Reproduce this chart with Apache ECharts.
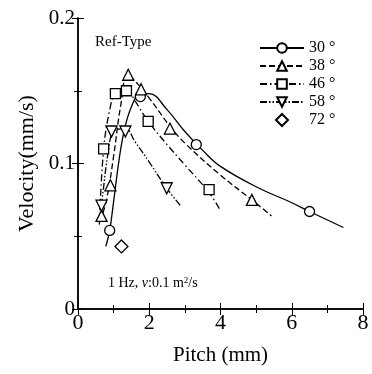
<!DOCTYPE html>
<html>
<head>
<meta charset="utf-8">
<script src="https://cdn.jsdelivr.net/npm/echarts@6/dist/echarts.min.js"></script>
<style>
  html, body { margin: 0; padding: 0; background: #fff; }
  #chart { width: 372px; height: 374px; }
</style>
</head>
<body>
<div id="chart"></div>
<script>
  // measured points
  var p30x = [0.89, 1.75, 3.32, 6.5]
  var p30y = [0.054, 0.146, 0.113, 0.067]
  var p38x = [0.66, 0.91, 1.41, 1.77, 2.58, 4.88]
  var p38y = [0.064, 0.085, 0.161, 0.151, 0.124, 0.075]
  var p46x = [0.72, 1.05, 1.36, 1.97, 3.68]
  var p46y = [0.110, 0.148, 0.150, 0.129, 0.082]
  var p58x = [0.66, 0.94, 1.33, 2.49]
  var p58y = [0.071, 0.122, 0.122, 0.083]
  var p72x = [1.22]
  var p72y = [0.043]

  // fitted curves
  var c30x = [0.78, 0.89, 1.0, 1.15, 1.3, 1.5, 1.75, 2.0, 2.5, 3.0, 3.5, 4.0, 5.0, 6.0, 6.5, 7.45]
  var c30y = [0.043, 0.054, 0.074, 0.102, 0.123, 0.139, 0.148, 0.148, 0.137, 0.122, 0.109, 0.098, 0.084, 0.073, 0.067, 0.056]
  var c38x = [0.62, 0.8, 1.0, 1.2, 1.4, 1.7, 2.0, 2.6, 3.0, 4.0, 4.88, 5.43]
  var c38y = [0.060, 0.075, 0.105, 0.140, 0.161, 0.154, 0.145, 0.125, 0.114, 0.092, 0.075, 0.064]
  var c46x = [0.6, 0.72, 0.9, 1.05, 1.36, 1.6, 1.97, 2.5, 3.0, 3.68, 3.99]
  var c46y = [0.058, 0.110, 0.138, 0.148, 0.151, 0.143, 0.129, 0.113, 0.099, 0.080, 0.068]
  var c58x = [0.6, 0.7, 0.85, 1.0, 1.33, 1.6, 2.0, 2.49, 2.88]
  var c58y = [0.060, 0.080, 0.108, 0.122, 0.124, 0.115, 0.101, 0.083, 0.071]

  var names = ['30 °', '38 °', '46 °', '58 °', '72 °']
  var xTicks = [0, 2, 4, 6, 8]
  var yTicks = [0, 0.1, 0.2]

  var FONT = '"Liberation Serif", "DejaVu Serif", serif'
  var downTri = 'path://M0,0 L10,0 L5,9 Z'
  var diamond = 'path://M5,0 L10,5 L5,10 L0,5 Z'

  function pairs(xs, ys) {
    return xs.map(function (x, i) { return [x, ys[i]] })
  }

  function curve(name, xs, ys, dash, symbol) {
    return {
      name: name,
      type: 'line',
      data: pairs(xs, ys),
      smooth: 0.4,
      showSymbol: false,
      symbol: symbol,
      symbolSize: 10,
      silent: true,
      itemStyle: { color: '#fff', borderColor: '#000', borderWidth: 1.2 },
      lineStyle: { color: '#000', width: 1.3, type: dash },
      z: 2
    }
  }

  function marks(name, xs, ys, symbol, size) {
    return {
      name: name,
      type: 'scatter',
      data: pairs(xs, ys),
      symbol: symbol,
      symbolSize: size,
      itemStyle: { color: '#fff', borderColor: '#000', borderWidth: 1.3, opacity: 1 },
      z: 3
    }
  }

  var dom = echarts.init(document.getElementById('chart'))

  var axisLine = { show: true, lineStyle: { color: '#000', width: 1.5 } }

  var option = {
    backgroundColor: '#fff',
    animation: false,
    textStyle: { fontFamily: FONT, color: '#000' },
    grid: { left: 78, right: 9, top: 18, bottom: 65 },
    legend: {
      orient: 'vertical',
      left: 254,
      top: 35,
      itemWidth: 44,
      itemHeight: 12,
      itemGap: 2,
      data: names,
      textStyle: { fontFamily: FONT, fontSize: 16, color: '#000' }
    },
    xAxis: [{
      type: 'value',
      min: 0, max: 8, interval: 2,
      name: 'Pitch (mm)',
      nameLocation: 'middle',
      nameGap: 36,
      nameTextStyle: { fontFamily: FONT, fontSize: 21, color: '#000' },
      axisLine: axisLine,
      axisTick: { inside: true, length: 6, lineStyle: { color: '#000' } },
      minorTick: { show: true, splitNumber: 2, length: 4, lineStyle: { color: '#000' } },
      axisLabel: {
        fontFamily: FONT, fontSize: 22, color: '#000', margin: 3,
        formatter: function (v) { return xTicks.indexOf(v) > -1 ? String(v) : '' }
      },
      splitLine: { show: false }
    }, {
      type: 'value', position: 'top',
      min: 0, max: 8, interval: 2,
      axisLine: axisLine,
      axisTick: { inside: true, length: 6, lineStyle: { color: '#000' } },
      minorTick: { show: true, splitNumber: 2, length: 4, lineStyle: { color: '#000' } },
      axisLabel: { show: false },
      splitLine: { show: false }
    }],
    yAxis: [{
      type: 'value',
      min: 0, max: 0.2, interval: 0.1,
      name: 'Velocity(mm/s)',
      nameLocation: 'middle',
      nameGap: 40,
      nameTextStyle: { fontFamily: FONT, fontSize: 22, color: '#000' },
      axisLine: axisLine,
      axisTick: { inside: true, length: 6, lineStyle: { color: '#000' } },
      minorTick: { show: true, splitNumber: 2, length: 4, lineStyle: { color: '#000' } },
      axisLabel: {
        fontFamily: FONT, fontSize: 21, color: '#000', margin: 3,
        formatter: function (v) {
          var t = Math.round(v * 10) / 10
          return yTicks.indexOf(t) > -1 ? String(t) : ''
        }
      },
      splitLine: { show: false }
    }, {
      type: 'value', position: 'right',
      min: 0, max: 0.2, interval: 0.1,
      axisLine: axisLine,
      axisTick: { inside: true, length: 6, lineStyle: { color: '#000' } },
      minorTick: { show: true, splitNumber: 2, length: 4, lineStyle: { color: '#000' } },
      axisLabel: { show: false },
      splitLine: { show: false }
    }],
    graphic: [{
      type: 'text', left: 95, top: 35,
      style: { text: 'Ref-Type', font: '15px ' + FONT, fill: '#000' }
    }, {
      type: 'text', left: 108, top: 276,
      style: {
        text: '1 Hz, {i|ν}:0.1 m{s|2}/s',
        font: '14px ' + FONT, fill: '#000',
        rich: {
          i: { font: 'italic 14px ' + FONT, fill: '#000' },
          s: { font: '9px ' + FONT, fill: '#000', verticalAlign: 'top', padding: [0, 0, 6, 0] }
        }
      }
    }],
    series: [
      curve(names[0], c30x, c30y, 'solid', 'circle'),
      curve(names[1], c38x, c38y, [6, 3], 'triangle'),
      curve(names[2], c46x, c46y, [7, 3, 1.5, 3], 'rect'),
      curve(names[3], c58x, c58y, [7, 2, 1.5, 2, 1.5, 2], downTri),
      marks(names[0], p30x, p30y, 'circle', 10),
      marks(names[1], p38x, p38y, 'triangle', 11),
      marks(names[2], p46x, p46y, 'rect', 10),
      marks(names[3], p58x, p58y, downTri, 11),
      marks(names[4], p72x, p72y, diamond, 13)
    ]
  }

  dom.setOption(option)
</script>
</body>
</html>
